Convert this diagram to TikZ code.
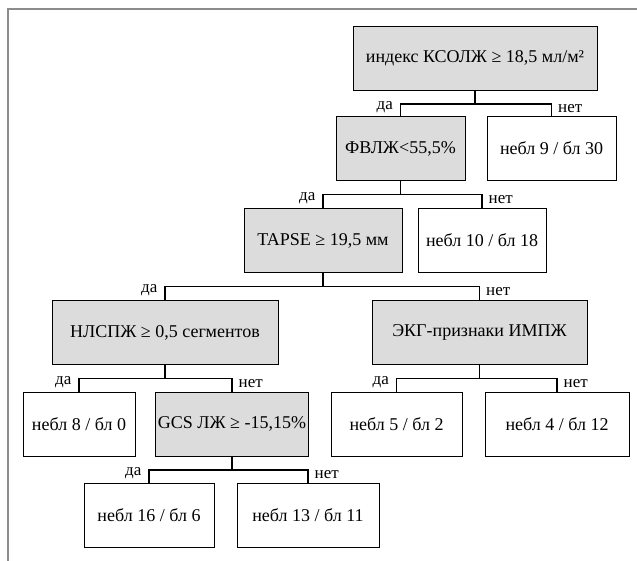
\documentclass[tikz,border=0pt]{standalone}
\usepackage{fontspec}
\setmainfont{Liberation Serif}
\definecolor{cornice}{HTML}{8C8C8C}
\definecolor{nodogrigio}{HTML}{DCDCDC}
\tikzset{
  nodo/.style={draw=black, line width=0.9pt, minimum height=64pt, inner sep=2pt, font=\fontsize{18}{20}\selectfont},
  test/.style={nodo, fill=nodogrigio},
  foglia/.style={nodo, fill=white},
  ramo/.style={line width=1.4pt},
  lsi/.style={pos=0.5, anchor=base east, inner sep=0pt, xshift=-7pt, yshift=-6pt, font=\fontsize{17}{19}\selectfont},
  lno/.style={pos=0.5, anchor=base west, inner sep=0pt, xshift=6pt, yshift=-9pt, font=\fontsize{17}{19}\selectfont}
}
\begin{document}
\begin{tikzpicture}[x=1pt, y=-1pt]
    \useasboundingbox (0,0) rectangle (637,561);

    % Cornice (lati superiore e sinistro)
    \draw[cornice, line width=2.5pt] (637,9) -- (8,9) -- (8,561);

    % Nodi di decisione
    \node[test, minimum width=244pt] (kso) at (475,58) {индекс КСОЛЖ ≥ 18,5 мл/м²};
    \node[test, minimum width=129pt] (fv) at (400.5,148.5) {ФВЛЖ<55,5\%};
    \node[test, minimum width=158pt] (tapse) at (323,240.5) {TAPSE ≥ 19,5 мм};
    \node[test, minimum width=226pt] (nls) at (165,332.5) {НЛСПЖ ≥ 0,5 сегментов};
    \node[test, minimum width=215pt] (ekg) at (479.5,332.5) {ЭКГ-признаки ИМПЖ};
    \node[test, minimum width=148pt] (gcs) at (232,424) {GCS ЛЖ ≥ -15,15\%};

    % Foglie (esiti)
    \node[foglia, minimum width=129pt] (f9) at (551.5,148.5) {небл 9 / бл 30};
    \node[foglia, minimum width=128pt] (f10) at (482,240.5) {небл 10 / бл 18};
    \node[foglia, minimum width=112pt] (f8) at (79,424) {небл 8 / бл 0};
    \node[foglia, minimum width=131pt] (f5) at (396.5,424) {небл 5 / бл 2};
    \node[foglia, minimum width=144pt] (f4) at (557,424) {небл 4 / бл 12};
    \node[foglia, minimum width=130pt] (f16) at (149,515) {небл 16 / бл 6};
    \node[foglia, minimum width=142pt] (f13) at (308,515) {небл 13 / бл 11};

    % Rami con le risposte
    \draw[ramo] (kso.south) -- ++(0,13.5) -| node[lsi] {да} (fv.north);
    \draw[ramo] (kso.south) -- ++(0,13.5) -| node[lno] {нет} (f9.north);
    \draw[ramo] (fv.south) -- ++(0,13.5) -| node[lsi] {да} (tapse.north);
    \draw[ramo] (fv.south) -- ++(0,13.5) -| node[lno] {нет} (f10.north);
    \draw[ramo] (tapse.south) -- ++(0,13.5) -| node[lsi] {да} (nls.north);
    \draw[ramo] (tapse.south) -- ++(0,13.5) -| node[lno] {нет} (ekg.north);
    \draw[ramo] (nls.south) -- ++(0,13.5) -| node[lsi] {да} (f8.north);
    \draw[ramo] (nls.south) -- ++(0,13.5) -| node[lno] {нет} (gcs.north);
    \draw[ramo] (ekg.south) -- ++(0,13.5) -| node[lsi] {да} (f5.north);
    \draw[ramo] (ekg.south) -- ++(0,13.5) -| node[lno] {нет} (f4.north);
    \draw[ramo] (gcs.south) -- ++(0,13.5) -| node[lsi] {да} (f16.north);
    \draw[ramo] (gcs.south) -- ++(0,13.5) -| node[lno] {нет} (f13.north);
\end{tikzpicture}
\end{document}
